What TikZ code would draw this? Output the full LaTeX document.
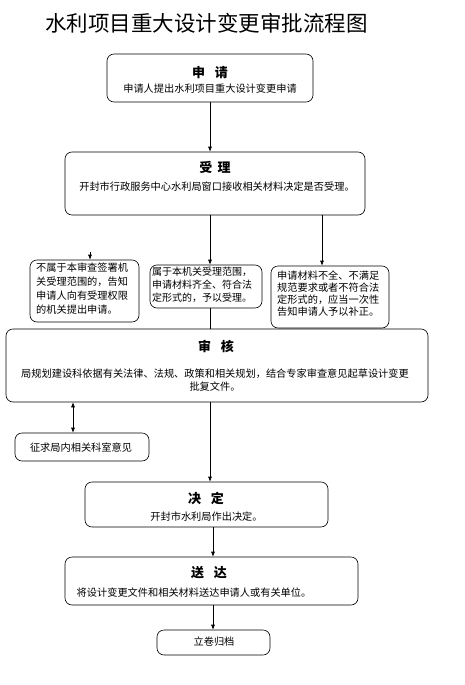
\documentclass[tikz,border=0pt]{standalone}
\usepackage{fontspec}
\setmainfont{Noto Sans CJK SC}
\usetikzlibrary{arrows.meta}
\tikzset{
  box/.style={draw,line width=0.6pt,rounded corners=7pt,inner sep=0pt},
  head/.style={font=\fontsize{13}{13}\selectfont\bfseries,inner sep=0pt},
  txt/.style={font=\fontsize{10.2}{13}\selectfont,inner sep=0pt},
  arr/.style={-{Latex[length=5pt,width=4pt]},line width=0.6pt},
  darr/.style={{Latex[length=5pt,width=4pt]}-{Latex[length=5pt,width=4pt]},line width=0.6pt},
}

\begin{document}
\begin{tikzpicture}[x=1pt,y=-1pt]
  \useasboundingbox (0,0) rectangle (464,685);
  \fill[white] (0,0) rectangle (464,685);
  \node[font=\fontsize{21.5}{22}\selectfont] (title) at (206.5,23) {水利项目重大设计变更审批流程图};
  % boxes
  \node[box,minimum width=206pt,minimum height=48pt] (sq) at (210,78) {};
  \node[box,minimum width=300pt,minimum height=63pt] (sl) at (215,183.5) {};
  \node[box,minimum width=109pt,minimum height=62pt] (bl) at (84.5,291) {};
  \node[box,minimum width=112pt,minimum height=43pt] (bm) at (206,286.5) {};
  \node[box,minimum width=118pt,minimum height=62pt] (br) at (330,297) {};
  \node[box,minimum width=422pt,minimum height=73pt] (sh) at (217,365.5) {};
  \node[box,minimum width=134pt,minimum height=28pt] (zq) at (82,447) {};
  \node[box,minimum width=243pt,minimum height=45pt] (jd) at (206.5,504.5) {};
  \node[box,minimum width=293pt,minimum height=48pt] (sd) at (211.5,581) {};
  \node[box,minimum width=113pt,minimum height=25pt] (lj) at (213.5,642.5) {};
  % texts
  \node[head] (sqh) at (210,73) {申\hspace{0.75em}请};
  \node[txt] (sqt) at (210,89) {申请人提出水利项目重大设计变更申请};
  \node[head] (slh) at (215,167) {受\hspace{0.4em}理};
  \node[txt] (slt) at (217,187) {开封市行政服务中心水利局窗口接收相关材料决定是否受理。};
  \node[txt,font=\fontsize{10.2}{14}\selectfont,align=left,anchor=north west] (blt) at (36,263)
    {不属于本审查签署机\\关受理范围的，告知\\申请人向有受理权限\\的机关提出申请。};
  \node[txt,font=\fontsize{10}{13}\selectfont,align=left,anchor=north west] (bmt) at (152,267)
    {属于本机关受理范围，\\申请材料齐全、符合法\\定形式的，予以受理。};
  \node[txt,font=\fontsize{10.2}{12}\selectfont,align=left,anchor=north west] (brt) at (277,271)
    {申请材料不全、不满足\\规范要求或者不符合法\\定形式的，应当一次性\\告知申请人予以补正。};
  \node[head] (shh) at (216,346) {审\hspace{0.75em}核};
  \node[txt,align=center,anchor=north] (sht) at (215,369)
    {局规划建设科依据有关法律、法规、政策和相关规划，结合专家审查意见起草设计变更\\批复文件。};
  \node[txt] (zqt) at (81,448) {征求局内相关科室意见};
  \node[head] (jdh) at (206,498) {决\hspace{0.75em}定};
  \node[txt] (jdt) at (206.5,517) {开封市水利局作出决定。};
  \node[head] (sdh) at (209,573) {送\hspace{0.75em}达};
  \node[txt] (sdt) at (194,593) {将设计变更文件和相关材料送达申请人或有关单位。};
  \node[txt] (ljt) at (214,642) {立卷归档};
  % connectors
  \coordinate (brin) at (322,0);
  \coordinate (blin) at (90,252);
  \coordinate (zqin) at (73,0);
  \coordinate (sdin) at (213,0);
  \draw[arr] (sq.south) -- (sq.south |- sl.north);
  \draw[arr] (sl.south -| sq.south) -- (bm.north -| sq.south);
  \draw[arr] (sl.south -| brin) -- (br.north -| brin);
  \draw[arr] (blin) -- (blin |- bl.north);
  \draw[line width=0.6pt] (bm.south -| sq.south) -- (sh.north -| sq.south);
  \draw[arr] (sh.south -| sq.south) -- (jd.north -| sq.south);
  \draw[darr] (sh.south -| zqin) -- (zq.north -| zqin);
  \draw[arr] (jd.south -| sdin) -- (sd.north -| sdin);
  \draw[arr] (sd.south -| sdin) -- (lj.north -| sdin);
\end{tikzpicture}
\end{document}
